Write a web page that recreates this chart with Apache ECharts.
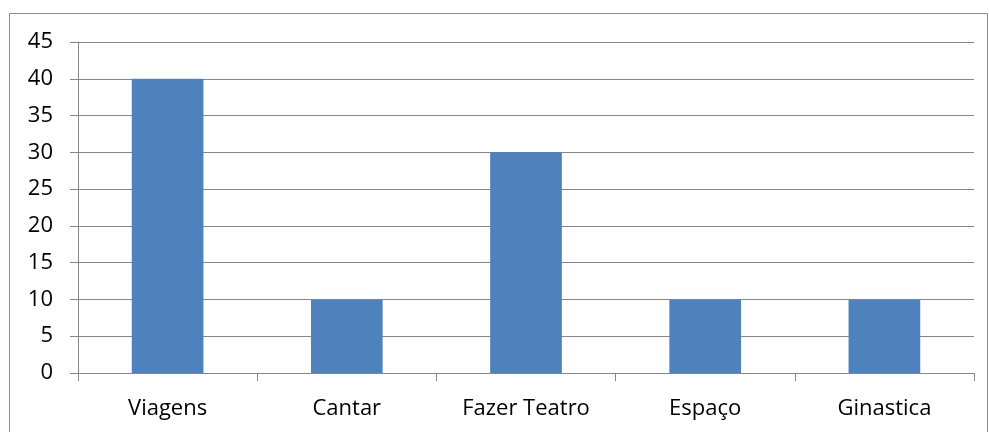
<!DOCTYPE html>
<html>
<head>
<meta charset="utf-8">
<script src="https://cdn.jsdelivr.net/npm/echarts@6/dist/echarts.min.js"></script>
<style>
  html, body { margin: 0; padding: 0; background: #fff; }
  #chart { width: 989px; height: 432px; }
</style>
</head>
<body>
<div id="chart"></div>
<script>
// values
var categories = ["Viagens", "Cantar", "Fazer Teatro", "Espaço", "Ginastica"];
var values = [40, 10, 30, 10, 10];

var chart = echarts.init(document.getElementById("chart"));
chart.setOption({
  animation: false,
  textStyle: { fontFamily: "Open Sans" },
  graphic: [
    {
      type: "rect",
      shape: { x: 9.5, y: 13.5, width: 978, height: 440 },
      style: { fill: "none", stroke: "#8c8c8c", lineWidth: 1 }
    }
  ],
  grid: { left: 78, right: 15, top: 42, bottom: 59, containLabel: false },
  xAxis: {
    type: "category",
    data: categories,
    axisLine: { lineStyle: { color: "#868686", width: 1 } },
    axisTick: { show: true, length: 8, interval: 0, lineStyle: { color: "#868686" } },
    axisLabel: { color: "#000", fontSize: 22, margin: 25, interval: 0 }
  },
  yAxis: {
    type: "value",
    min: 0,
    max: 45,
    interval: 5,
    axisLine: { show: true, lineStyle: { color: "#868686", width: 1 } },
    axisTick: { show: true, length: 8, lineStyle: { color: "#868686" } },
    axisLabel: { color: "#000", fontSize: 22, margin: 25 },
    splitLine: { show: true, lineStyle: { color: "#868686", width: 1 } }
  },
  series: [
    {
      type: "bar",
      data: values,
      barWidth: "40%",
      itemStyle: { color: "#4F81BD" }
    }
  ]
});
</script>
</body>
</html>
